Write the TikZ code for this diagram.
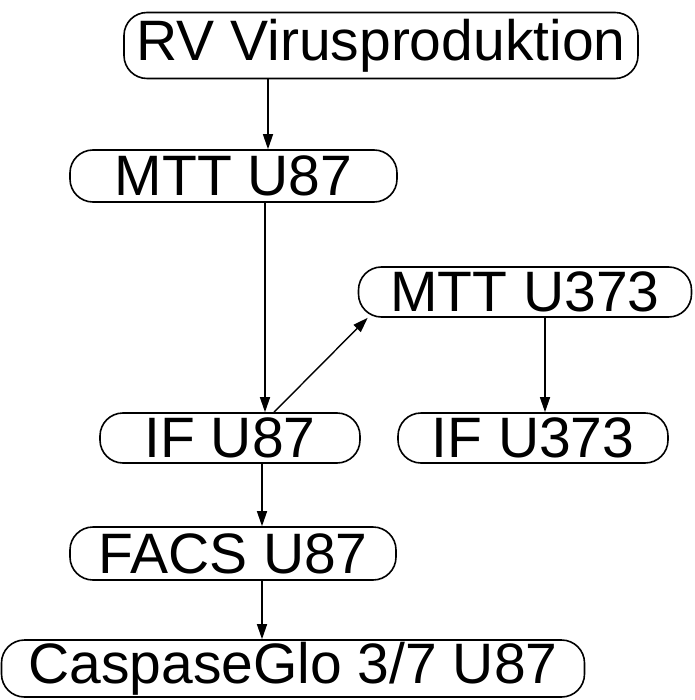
\documentclass[tikz,border=0pt]{standalone}
\usepackage{fontspec}
\setmainfont{Liberation Sans}
\usetikzlibrary{arrows.meta}

\begin{document}
\begin{tikzpicture}[
    x=1pt, y=-1pt,
    font=\fontsize{57}{60}\selectfont, >={Triangle[length=15pt,width=10pt]},
    box/.style ={rectangle, rounded corners=23pt, draw, line width=1.6pt, inner sep=0pt, align=center},
    flow/.style={->, line width=1.4pt},
]
\useasboundingbox (0,0) rectangle (694,700);
\node[box, minimum width=514pt, minimum height=66pt] (rv)     at (381,45.5) {RV Virusproduktion};
\node[box, minimum width=327pt, minimum height=52pt] (mtt87)  at (233.5,176) {MTT U87};
\node[box, minimum width=333pt, minimum height=50pt] (mtt373) at (525,292) {MTT U373};
\node[box, minimum width=260pt, minimum height=50pt] (if87)   at (230,438) {IF U87};
\node[box, minimum width=270pt, minimum height=50pt] (if373)  at (533,438) {IF U373};
\node[box, minimum width=326pt, minimum height=53pt] (facs)   at (233,553.5) {FACS U87};
\node[box, minimum width=583pt, minimum height=57pt] (casp)   at (293,668.5) {CaspaseGlo 3/7 U87};
% arrow columns
\coordinate (c1) at (268,0);
\coordinate (c2) at (265,0);
\coordinate (c3) at (545,0);
\coordinate (c4) at (262,0);
\coordinate (c5) at (274,0);
\draw[flow] (rv.south -| c1) -- (mtt87.north -| c1);
\draw[flow] (mtt87.south -| c2) -- (if87.north -| c2);
\draw[flow] (if87.north -| c5) -- ([xshift=10pt]mtt373.south west);
\draw[flow] (mtt373.south -| c3) -- (if373.north -| c3);
\draw[flow] (if87.south -| c4) -- (facs.north -| c4);
\draw[flow] (facs.south -| c4) -- (casp.north -| c4);
\end{tikzpicture}
\end{document}
